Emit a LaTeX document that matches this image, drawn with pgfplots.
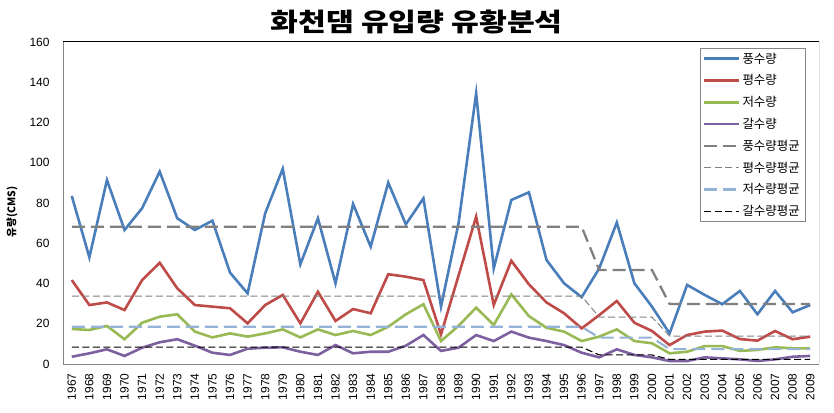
\documentclass[border=0pt]{standalone}
\usepackage{fontspec}
\usepackage{pgfplots}
\usepackage{pgfplotstable}
\pgfplotsset{compat=1.18}
\setmainfont{Liberation Sans}
\newfontfamily\kr{Noto Sans CJK KR}
\definecolor{sblue}{HTML}{4A7EBB}
\definecolor{sred}{HTML}{BE4B48}
\definecolor{sgreen}{HTML}{98B954}
\definecolor{spurple}{HTML}{7D60A0}
\definecolor{avgray}{HTML}{808080}
\definecolor{avblue}{HTML}{95B3D7}
\definecolor{axgray}{HTML}{868686}

\pgfplotstableread{
year f p j g fa pa ja ga
1967 83.5 41.7 17.4 3.6 68.2 33.7 18.5 8.4
1968 53.0 29.3 16.9 5.3 68.2 33.7 18.5 8.4
1969 91.4 30.6 18.9 7.3 68.2 33.7 18.5 8.4
1970 66.6 26.8 12.3 4.0 68.2 33.7 18.5 8.4
1971 77.4 41.7 20.5 8.1 68.2 33.7 18.5 8.4
1972 95.6 50.3 23.5 10.8 68.2 33.7 18.5 8.4
1973 72.4 37.6 24.7 12.3 68.2 33.7 18.5 8.4
1974 66.6 29.3 16.1 9.1 68.2 33.7 18.5 8.4
1975 71.2 28.5 13.2 5.6 68.2 33.7 18.5 8.4
1976 45.4 27.7 15.2 4.5 68.2 33.7 18.5 8.4
1977 35.1 20.2 13.6 7.6 68.2 33.7 18.5 8.4
1978 74.9 29.3 15.2 8.1 68.2 33.7 18.5 8.4
1979 97.0 34.3 17.2 8.3 68.2 33.7 18.5 8.4
1980 49.5 20.2 13.2 6.1 68.2 33.7 18.5 8.4
1981 72.4 35.9 17.2 4.5 68.2 33.7 18.5 8.4
1982 40.1 21.4 14.4 9.4 68.2 33.7 18.5 8.4
1983 79.5 27.3 16.4 5.3 68.2 33.7 18.5 8.4
1984 58.3 25.2 14.4 6.1 68.2 33.7 18.5 8.4
1985 90.1 44.6 18.5 6.1 68.2 33.7 18.5 8.4
1986 69.4 43.4 24.7 9.1 68.2 33.7 18.5 8.4
1987 82.3 41.7 29.7 14.4 68.2 33.7 18.5 8.4
1988 28.5 14.7 11.4 6.5 68.2 33.7 18.5 8.4
1989 70.0 44.0 19.0 8.1 68.2 33.7 18.5 8.4
1990 134.5 73.2 28.0 14.4 68.2 33.7 18.5 8.4
1991 47.5 29.3 19.4 11.4 68.2 33.7 18.5 8.4
1992 81.5 51.3 34.6 16.1 68.2 33.7 18.5 8.4
1993 85.3 39.6 23.8 13.1 68.2 33.7 18.5 8.4
1994 51.7 30.6 18.0 11.4 68.2 33.7 18.5 8.4
1995 40.1 25.2 16.1 9.4 68.2 33.7 18.5 8.4
1996 33.2 17.7 11.4 5.6 68.2 33.7 18.5 8.4
1997 47.5 24.3 13.6 3.3 46.7 23.3 13.1 4.5
1998 70.3 31.3 17.2 7.3 46.7 23.3 13.1 4.5
1999 40.1 20.5 11.4 4.5 46.7 23.3 13.1 4.5
2000 28.5 16.4 10.3 3.3 46.7 23.3 13.1 4.5
2001 15.2 9.4 5.3 1.5 29.8 13.9 7.4 2.3
2002 39.3 14.4 6.1 1.5 29.8 13.9 7.4 2.3
2003 34.3 16.1 8.9 3.3 29.8 13.9 7.4 2.3
2004 29.7 16.6 8.9 2.8 29.8 13.9 7.4 2.3
2005 36.3 12.4 6.5 2.3 29.8 13.9 7.4 2.3
2006 24.7 11.6 7.0 1.5 29.8 13.9 7.4 2.3
2007 36.3 16.4 8.3 2.3 29.8 13.9 7.4 2.3
2008 25.7 12.3 7.8 3.6 29.8 13.9 7.4 2.3
2009 29.3 13.6 7.8 4.0 29.8 13.9 7.4 2.3
}\data

\begin{document}
\begin{tikzpicture}
\path[use as bounding box] (-63bp,-49bp) rectangle (771bp,364bp);
\begin{axis}[
  at={(0,0)}, anchor=south west,
  scale only axis, width=756bp, height=322bp,
  xmin=1966.5, xmax=2009.5, ymin=0, ymax=160,
  xtick={1967,...,2009}, ytick={0,20,...,160},
  major tick length=0pt,
  axis x line*=bottom, axis y line*=left,
  axis line style={draw=axgray, line width=0.9bp, -},
  /pgf/number format/assume math mode=true,
  /pgf/number format/1000 sep={},
  x tick label style={rotate=90, anchor=east, font=\fontsize{12}{12}\selectfont},
  y tick label style={font=\fontsize{12}{12}\selectfont},
  xticklabel shift=6bp,
  yticklabel shift=10bp,
  title={\scalebox{1.19}[1]{\kr\bfseries 화천댐 유입량 유황분석}},
  every axis title/.style={at={(axis description cs:0.468,1.062)}, anchor=center, font=\fontsize{25.5}{29}\selectfont},
  ylabel={\kr\bfseries 유량(CMS)},
  every axis y label/.style={at={(axis description cs:-0.0675,0.472)}, rotate=90, anchor=center, font=\fontsize{10.5}{12}\selectfont},
  legend style={at={(rel axis cs:0.9815,0.981)}, anchor=north east, draw=axgray,
    font=\kr\fontsize{12.5}{14}\selectfont, row sep=7bp, inner xsep=3bp, inner ysep=3bp,
    nodes={inner xsep=2bp, inner ysep=1.5bp}},
  legend cell align=left,
  legend image code/.code={\draw[#1] (0bp,0bp) -- (35bp,0bp);},
]
\addplot[sblue, line width=2.6bp] table[x=year,y=f]{\data};
\addlegendentry{풍수량}
\addplot[sred, line width=2.6bp] table[x=year,y=p]{\data};
\addlegendentry{평수량}
\addplot[sgreen, line width=2.6bp] table[x=year,y=j]{\data};
\addlegendentry{저수량}
\addplot[spurple, line width=2.6bp] table[x=year,y=g]{\data};
\addlegendentry{갈수량}
\addplot[avgray, line width=2.3bp, dash pattern=on 13bp off 6bp] table[x=year,y=fa]{\data};
\addlegendentry{풍수량평균}
\addplot[avgray, line width=1bp, dash pattern=on 7bp off 3.5bp] table[x=year,y=pa]{\data};
\addlegendentry{평수량평균}
\addplot[avblue, line width=2.2bp, dash pattern=on 13bp off 6bp] table[x=year,y=ja]{\data};
\addlegendentry{저수량평균}
\addplot[black, line width=1.1bp, dash pattern=on 7bp off 3.5bp] table[x=year,y=ga]{\data};
\addlegendentry{갈수량평균}
\draw[black, line width=1bp] (rel axis cs:0,1) -- (rel axis cs:1,1) -- (rel axis cs:1,0);
\end{axis}
\end{tikzpicture}
\end{document}
